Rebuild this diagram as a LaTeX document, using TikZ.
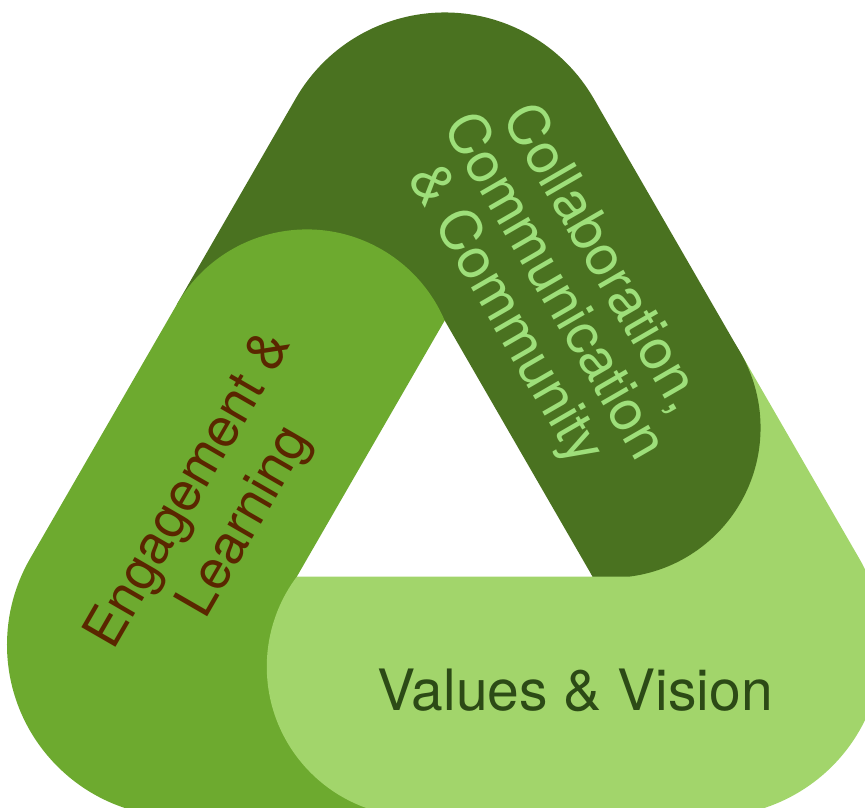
\documentclass[tikz,border=0pt]{standalone}
\usepackage{fontspec}
\setmainfont{TeX Gyre Heros}
\definecolor{darkg}{HTML}{4A7220}
\definecolor{midg}{HTML}{6DAA2F}
\definecolor{lightg}{HTML}{A2D56B}
\definecolor{browntxt}{HTML}{5A2600}
\definecolor{paletxt}{HTML}{9EDF7A}
\definecolor{deeptxt}{HTML}{2C4A16}
\newcommand\barfill[1]{%
  \fill[#1] (0,170.8) -- (-147.9,-85.4) -- (-27.9,-325.4) -- (-265.7,-325.4)
    arc[start angle=270, end angle=150, radius=172] -- (-267.85,186.86)
    arc[start angle=150, end angle=23.13, radius=150] -- cycle;}
\tikzset{
  englabel/.style={rotate=60, anchor=base, text=browntxt, inner sep=0pt,
    font=\fontsize{54}{64}\selectfont},
  colllabel/.style={rotate=-60, anchor=base, text=paletxt, inner sep=0pt,
    font=\fontsize{56}{57}\selectfont},
  vallabel/.style={anchor=base, text=deeptxt, inner sep=0pt,
    font=\fontsize{57}{64}\selectfont}
}
\begin{document}
\begin{tikzpicture}[x=1pt,y=1pt]
\useasboundingbox (-444.7,-316.7) rectangle (420.3,491.3);
\clip (-444.7,-316.7) rectangle (420.3,491.3);
% dark bar (right side)
\begin{scope}[rotate=-120]\barfill{darkg}\end{scope}
% medium bar (left side)
\barfill{midg}
% light bar (bottom)
\begin{scope}[rotate=120]\barfill{lightg}\end{scope}
% dark cap laid over the light bar's corner
\begin{scope}
  \clip (147.9,-85.4) -- (700,-85.4) -- (700,600) -- (-152.1,604.4) -- cycle;
  \fill[darkg] (165.85,63.54) circle[radius=150];
\end{scope}
% labels
\node[englabel] (eng1) at (-242.4,-6.1) {Engagement \&};
\node[englabel] (eng2) at (-186.7,-38.3) {Learning};
\node[colllabel] (coll1) at (143.4,224.6) {Collaboration,};
\node[colllabel] (coll2) at (94.9,196.6) {Communication};
\node[colllabel] (coll3) at (46.4,168.6) {\& Community};
\node[vallabel] (val) at (130.3,-218.7) {Values \& Vision};
\end{tikzpicture}
\end{document}
